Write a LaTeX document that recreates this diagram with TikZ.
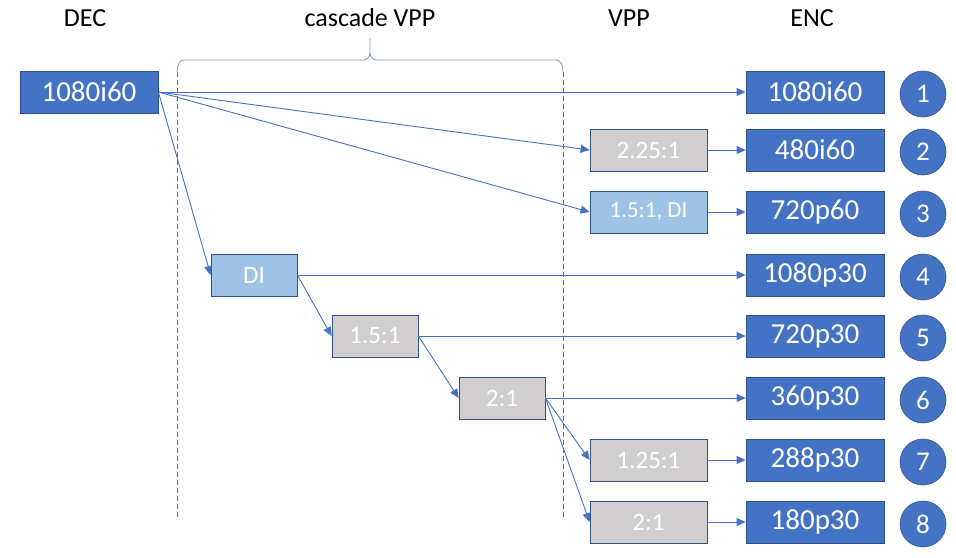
\documentclass[tikz,border=0pt]{standalone}
\usepackage{fontspec}
\setmainfont{Carlito}
\usepackage{tikz}
\usetikzlibrary{arrows.meta}
\usetikzlibrary{positioning}
\definecolor{encblue}{HTML}{4472C4}
\definecolor{edgeblue}{HTML}{2F528F}
\definecolor{diblue}{HTML}{9DC3E6}
\definecolor{boxgray}{HTML}{D0CECE}
\definecolor{bracegray}{HTML}{7F95C0}
\tikzset{box/.style = {draw=edgeblue, line width=0.8pt, text=white, inner sep=0,
                       minimum height=42pt}}
\tikzset{enc/.style = {box, fill=encblue, minimum width=138pt,
                       font=\fontsize{29}{30}\selectfont}}
\tikzset{vpp/.style = {box, fill=boxgray, minimum width=117pt,
                       font=\fontsize{25}{26}\selectfont}}
\tikzset{casc/.style = {box, fill=boxgray, minimum width=86pt,
                        font=\fontsize{25}{26}\selectfont}}
\tikzset{num/.style = {circle, draw=edgeblue, line width=0.6pt, fill=encblue, text=white,
                       minimum size=46pt, inner sep=0, font=\fontsize{27}{27}\selectfont}}
\tikzset{title/.style = {font=\fontsize{26}{26}\selectfont}}
\tikzset{link/.style = {draw=encblue, line width=0.9pt, -{Triangle[length=9pt,width=8pt]}}}
\tikzset{guide/.style = {draw=encblue, line width=0.8pt, dash pattern=on 5pt off 3pt}}

\begin{document}
\begin{tikzpicture}[x=1pt, y=-1pt]
    \useasboundingbox (0,0) rectangle (956,557);

    \node[title] (tdec) at (85,18) {DEC};
    \node[title] (tcasc) at (370,18) {cascade VPP};
    \node[title] (tvpp) at (629,18) {VPP};
    \node[title] (tenc) at (812,18) {ENC};

    \draw[bracegray, line width=0.8pt] (177,72) to[out=90, in=180] (184,60) -- (363,60)
        to[out=0, in=-90] (370,53) -- (370,38);
    \draw[bracegray, line width=0.8pt] (370,53) to[out=-90, in=180] (377,60) -- (556,60)
        to[out=0, in=90] (563,72);
    \coordinate (gl) at (177,72);
    \coordinate (gl') at (177,517);
    \coordinate (gr) at (563,72);
    \coordinate (gr') at (563,517);
    \draw[guide] (gl) -- (gl');
    \draw[guide] (gr) -- (gr');

    \node[enc] (dec) at (89,92) {1080i60};

    \foreach \n/\y/\t in {1/92/1080i60, 2/150/480i60, 3/212/720p60, 4/275/1080p30,
                          5/336/720p30, 6/398/360p30, 7/460/288p30, 8/522/180p30} {
      \node[enc] (e\n) at (815,\y) {\t};
      \node[num] (c\n) at (923,\y+2) {\n};
    }

    \node[vpp] (v2) at (648.5,150) {2.25:1};
    \node[vpp, fill=diblue, font=\fontsize{23}{24}\selectfont] (v3) at (648.5,212) {1.5:1, DI};
    \node[vpp] (v7) at (648.5,460) {1.25:1};
    \node[vpp] (v8) at (648.5,522) {2:1};

    \node[casc, fill=diblue] (di) at (254,275) {DI};
    \node[casc] (s1) at (375,336) {1.5:1};
    \node[casc] (s2) at (502,398) {2:1};

    \draw[link] (dec.east) -- (e1.west);
    \draw[link] (dec.east) -- (v2.west);
    \draw[link] (dec.east) -- (v3.west);
    \draw[link] (dec.east) -- (di.west);
    \draw[link] (v2.east) -- (e2.west);
    \draw[link] (v3.east) -- (e3.west);
    \draw[link] (di.east) -- (e4.west);
    \draw[link] (di.east) -- (s1.west);
    \draw[link] (s1.east) -- (e5.west);
    \draw[link] (s1.east) -- (s2.west);
    \draw[link] (s2.east) -- (e6.west);
    \draw[link] (s2.east) -- (v7.west);
    \draw[link] (s2.east) -- (v8.west);
    \draw[link] (v7.east) -- (e7.west);
    \draw[link] (v8.east) -- (e8.west);
\end{tikzpicture}
\end{document}
